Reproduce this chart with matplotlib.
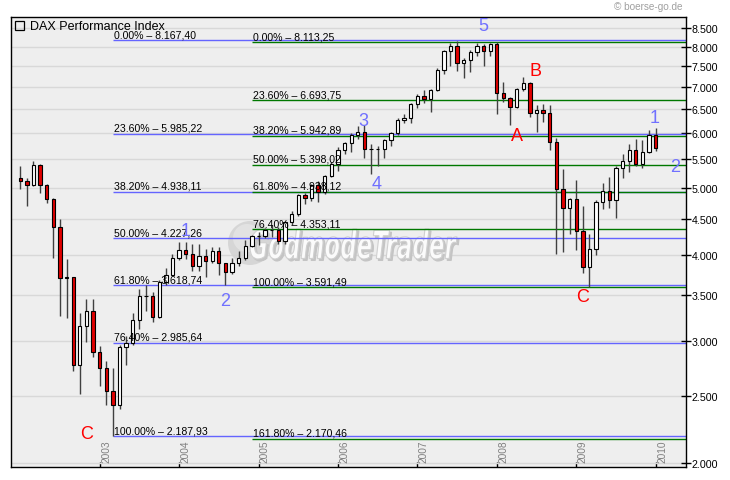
import matplotlib
matplotlib.use('Agg')
import matplotlib.pyplot as plt
import numpy as np
from matplotlib.ticker import FixedLocator, NullLocator, FuncFormatter
from matplotlib.patches import Rectangle, Circle, PathPatch
from matplotlib.textpath import TextPath
from matplotlib.font_manager import FontProperties
from matplotlib.transforms import Affine2D, blended_transform_factory

plt.rcParams['font.family'] = ['Liberation Sans', 'DejaVu Sans']

# monthly candles, Jan 2002 .. Jan 2010
first_year = 2002
opens = [5160, 5108, 5039, 5397, 5041, 4818, 4383, 3700, 3713, 2769, 3153, 3320,
         2893, 2748, 2547, 2424, 2942, 2983, 3221, 3488, 3485, 3257, 3656, 3746,
         3965, 4059, 4018, 3857, 3985, 3921, 4053, 3896, 3785, 3893, 3960, 4126,
         4256, 4255, 4350, 4349, 4185, 4461, 4586, 4887, 4830, 5044, 4929, 5193,
         5408, 5674, 5796, 5970, 6010, 5693, 5683, 5682, 5860, 6004, 6269, 6309,
         6597, 6789, 6715, 6917, 7409, 7883, 8007, 7584, 7638, 7862, 8019, 7871,
         8067, 6852, 6748, 6535, 6949, 7097, 6418, 6480, 6422, 5831, 4988, 4669,
         4810, 4338, 3844, 4085, 4770, 4941, 4809, 5332, 5465, 5675, 5415, 5626,
         5957]
highs = [5380, 5160, 5470, 5410, 5070, 4840, 4507, 3946, 3720, 3300, 3454, 3454,
         2950, 2810, 2745, 2960, 3050, 3300, 3571, 3620, 3530, 3680, 3830, 4012,
         4180, 4175, 4150, 4150, 4080, 4100, 4100, 3900, 3960, 4050, 4200, 4270,
         4320, 4380, 4420, 4390, 4480, 4630, 4900, 4920, 5070, 5110, 5220, 5440,
         5720, 5830, 6000, 6150, 6160, 5784, 5740, 5880, 6020, 6300, 6400, 6630,
         6820, 6920, 6940, 7440, 7920, 8100, 8151, 7700, 7900, 8100, 8070, 8100,
         8120, 7118, 6760, 6970, 7230, 7100, 6580, 6600, 6586, 5900, 5323, 4840,
         5132, 4706, 4288, 4800, 5080, 5180, 5370, 5595, 5792, 5890, 5862, 6066,
         6110]
lows = [4985, 4706, 5030, 4920, 4755, 3955, 3260, 3245, 2720, 2520, 2995, 2845,
        2590, 2430, 2188, 2395, 2770, 2960, 3126, 3320, 3200, 3240, 3620, 3740,
        3930, 3940, 3794, 3790, 3712, 3890, 3740, 3618, 3760, 3850, 3930, 4100,
        4140, 4230, 4250, 4150, 4150, 4420, 4560, 4740, 4790, 4768, 4900, 5180,
        5293, 5600, 5630, 5880, 5524, 5243, 5380, 5530, 5740, 5970, 6200, 6200,
        6530, 6630, 6440, 6900, 7301, 7500, 7383, 7206, 7360, 7740, 7488, 7750,
        6384, 6658, 6168, 6520, 6910, 6320, 6025, 6228, 5676, 4014, 4043, 4292,
        4070, 3765, 3589, 4000, 4660, 4671, 4518, 5160, 5275, 5375, 5340, 5614,
        5660]
closes = [5108, 5039, 5397, 5041, 4818, 4383, 3700, 3713, 2769, 3153, 3320, 2893,
          2748, 2547, 2424, 2942, 2983, 3221, 3488, 3485, 3257, 3656, 3746, 3965,
          4059, 4018, 3857, 3985, 3921, 4053, 3896, 3785, 3893, 3960, 4126, 4256,
          4255, 4350, 4349, 4185, 4461, 4586, 4887, 4830, 5044, 4929, 5193, 5408,
          5674, 5796, 5970, 6010, 5693, 5683, 5682, 5860, 6004, 6269, 6309, 6597,
          6789, 6715, 6917, 7409, 7883, 8007, 7584, 7638, 7862, 8019, 7871, 8067,
          6852, 6748, 6535, 6949, 7097, 6418, 6480, 6422, 5831, 4988, 4669, 4810,
          4338, 3844, 4085, 4770, 4941, 4809, 5332, 5465, 5675, 5415, 5626, 5957,
          5710]

# fibonacci sets: start date (year fraction), percentages, levels
fib1_start = 2003 + 2 / 12
fib1_pct = ['0.00%', '23.60%', '38.20%', '50.00%', '61.80%', '76.40%', '100.00%']
fib1_val = [8167.40, 5985.22, 4938.11, 4227.26, 3618.74, 2985.64, 2187.93]
fib2_start = 2004 + 11 / 12
fib2_pct = ['0.00%', '23.60%', '38.20%', '50.00%', '61.80%', '76.40%', '100.00%', '161.80%']
fib2_val = [8113.25, 6693.75, 5942.89, 5398.02, 4938.12, 4353.11, 3591.49, 2170.46]

# elliott wave labels
wave_text = ['C', '1', '2', '3', '4', '5', 'A', 'B', 'C', '1', '2']
wave_x = [2002.83, 2004.08, 2004.58, 2006.32, 2006.49, 2007.83, 2008.25, 2008.49, 2009.08, 2009.99, 2010.24]
wave_y = [2209, 4345, 3435, 6251, 5064, 8565, 5947, 7381, 3485, 6322, 5370]
wave_col = ['#ff0000', '#7070ff', '#7070ff', '#7070ff', '#7070ff', '#7070ff',
            '#ff0000', '#ff0000', '#ff0000', '#7070ff', '#7070ff']

yticks = [2000, 2500, 3000, 3500, 4000, 4500, 5000, 5500, 6000, 6500, 7000, 7500, 8000, 8500]
years = list(range(2003, 2011))


def de(v, dec=2):
    s = f"{v:,.{dec}f}"
    return s.replace(',', 'X').replace('.', ',').replace('X', '.')


W, H = 730, 481
fig = plt.figure(figsize=(W / 100, H / 100), dpi=100)
ax = fig.add_axes([10.7 / W, 1 - 467.7 / H, (685.7 - 10.7) / W, (467.7 - 18.3) / H])
ax.set_facecolor('#eeeeee')
ax.set_yscale('log')
ax.set_xlim(2001.88, 2010.378)
ax.set_ylim(1977.5, 8816)

ax.yaxis.set_major_locator(FixedLocator(yticks))
ax.yaxis.set_minor_locator(NullLocator())
ax.yaxis.set_major_formatter(FuncFormatter(lambda v, p: de(v, 0)))
ax.yaxis.tick_right()
ax.tick_params(axis='y', which='major', direction='inout', length=7, width=1,
               labelsize=7.7, pad=1, colors='black')
ax.set_xticks(years)
ax.xaxis.set_minor_locator(NullLocator())
ax.tick_params(axis='x', direction='in', length=3.5, width=1, labelbottom=False)
ax.grid(axis='y', color='#d8d8d8', lw=1)
ax.set_axisbelow(True)
for s in ax.spines.values():
    s.set_linewidth(1)
    s.set_color('black')

trans = blended_transform_factory(ax.transData, ax.transAxes)
for yr in years:
    ax.text(yr + 1.3 / 79.43, 0.0098, str(yr), transform=trans, rotation=90,
            ha='left', va='bottom', fontsize=7.3, color='#808080')

# watermark
wm = Circle((2.50, 2.37), 0.22, transform=fig.dpi_scale_trans, facecolor='#d2d2d2',
            edgecolor='none', alpha=0.85, zorder=0.7)
ax.add_patch(wm)
wm2 = Circle((2.47, 2.42), 0.14, transform=fig.dpi_scale_trans, facecolor='#e4e4e4',
             edgecolor='none', alpha=0.9, zorder=0.71)
ax.add_patch(wm2)
tp = TextPath((0, 0), 'GodmodeTrader', size=1,
              prop=FontProperties(family='DejaVu Sans', weight='bold', style='italic'))
bb = tp.get_extents()
sx, sy = 2.07 / bb.width, 0.30 / bb.height
for dx, dy, fc, ec in [(0.02, -0.02, '#c4c4c4', '#c4c4c4'), (0, 0, '#fbfbfb', '#d0d0d0')]:
    tr = Affine2D().translate(-bb.x0, -bb.y0).scale(sx, sy).translate(2.50 + dx, 2.21 + dy) + fig.dpi_scale_trans
    ax.add_patch(PathPatch(tp, transform=tr, facecolor=fc, edgecolor=ec, lw=0.8, zorder=0.75))

# fib lines
for start, pct, val, col in [(fib1_start, fib1_pct, fib1_val, '#6464ff'),
                             (fib2_start, fib2_pct, fib2_val, '#007800')]:
    for p, v in zip(pct, val):
        ax.hlines(v, start, 2010.378, color=col, lw=1.0, zorder=1.5)
        ax.annotate(f"{p} \u2013 {de(v)}", (start, v), xytext=(1.5, 3),
                    textcoords='offset pixels', fontsize=7.6, color='black',
                    ha='left', va='baseline', zorder=5)

# candles
x = first_year + np.arange(len(closes)) / 12
o = np.array(opens, float)
c = np.array(closes, float)
ax.vlines(x, lows, highs, color='#404040', lw=1, zorder=2)
up = c >= o
bottoms = np.minimum(o, c)
heights = np.abs(c - o)
ax.bar(x, heights, bottom=bottoms, width=0.042, color=np.where(up, 'white', '#e00000'),
       edgecolor='black', lw=0.8, zorder=3)

for t, wx, wy, col in zip(wave_text, wave_x, wave_y, wave_col):
    ax.text(wx, wy, t, ha='center', va='center', fontsize=13, color=col, zorder=6)

# legend and copyright
fig.patches.append(Rectangle((15.3 / W, 1 - 31 / H), 8.7 / W, 8.7 / H, transform=fig.transFigure,
                             facecolor='none', edgecolor='black', lw=0.9, zorder=5))
fig.text(30 / W, 1 - 26.5 / H, 'DAX Performance Index', ha='left', va='center', fontsize=9, zorder=5)
fig.text(683 / W, 1 - 7 / H, '\u00a9 boerse-go.de', ha='right', va='center', fontsize=7.2, color='#a0a0a0')

fig.savefig('out.png', dpi=100)
